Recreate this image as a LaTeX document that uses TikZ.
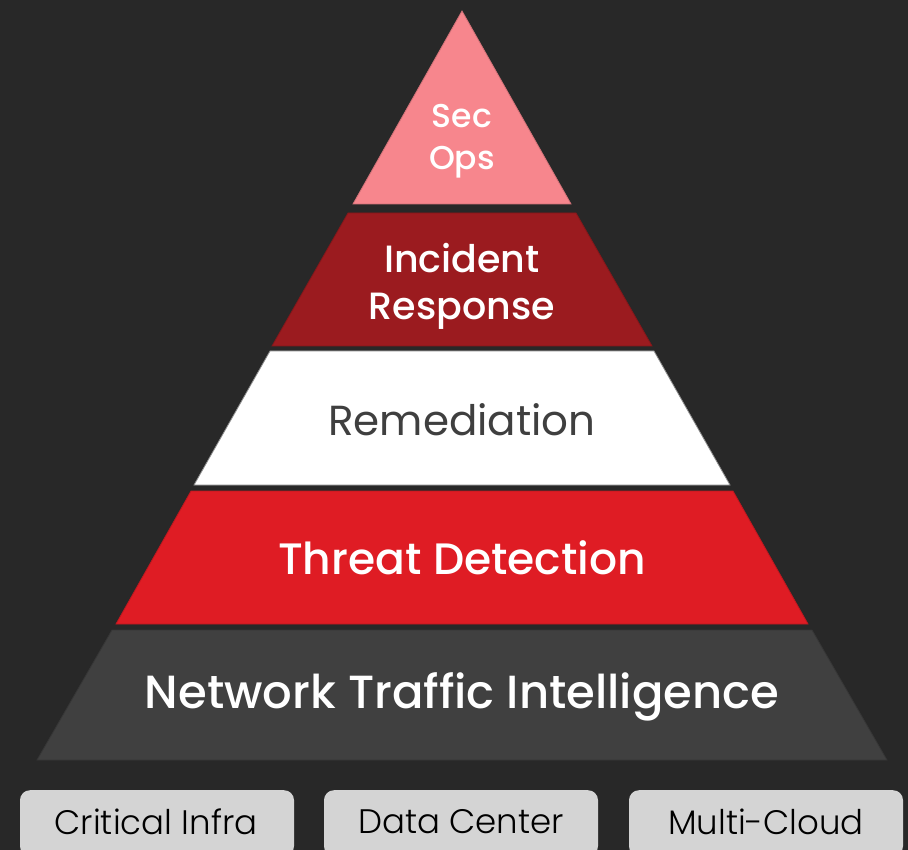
\documentclass[tikz,border=0pt]{standalone}
\usepackage{fontspec}
\setmainfont{Poppins}
\newfontfamily\pmed{Poppins Medium}
\newfontfamily\plight{Poppins Light}
\definecolor{bgc}{HTML}{282828}
\definecolor{pinkc}{HTML}{F7868D}
\definecolor{darkredc}{HTML}{9B1B1F}
\definecolor{whitec}{HTML}{FFFFFF}
\definecolor{redc}{HTML}{DF1C24}
\definecolor{grayc}{HTML}{404040}
\definecolor{boxc}{HTML}{D4D4D4}
\definecolor{remtext}{HTML}{3F3F3F}
\tikzset{
  tier/.style={line width=0.8pt, line join=miter},
  lbl/.style={align=center, inner sep=0pt, text=white},
  basebox/.style={fill=boxc, rounded corners=10pt, minimum width=274pt, minimum height=66pt, inner sep=0pt, anchor=north, text=black}
}
\begin{document}
\begin{tikzpicture}[x=1pt,y=-1pt]
\fill[bgc] (0,0) rectangle (908,850);
\useasboundingbox (0,0) rectangle (908,850);
\clip (0,0) rectangle (908,850);
% tiers
\filldraw[tier, fill=pinkc, draw=pinkc!85!black] (462,11) -- (571,204) -- (353,204) -- cycle;
\filldraw[tier, fill=darkredc, draw=darkredc!85!black] (348,213) -- (576,213) -- (652,346) -- (272,346) -- cycle;
\filldraw[tier, fill=whitec, draw=black!45] (270,351) -- (654,351) -- (730,485) -- (194,485) -- cycle;
\filldraw[tier, fill=redc, draw=redc!85!black] (191,491) -- (733,491) -- (808,624) -- (116,624) -- cycle;
\filldraw[tier, fill=grayc, draw=grayc!85!black] (112,630) -- (812,630) -- (887,760) -- (37,760) -- cycle;
% labels
\node[lbl, font=\pmed\fontsize{33}{42}\selectfont] (secops) at (462,141) {Sec\\Ops};
\node[lbl, font=\pmed\fontsize{38}{47}\selectfont] (incident) at (462,286) {Incident\\Response};
\node[lbl, font=\fontsize{42}{50}\selectfont, text=remtext] (remed) at (462,420) {Remediation};
\node[lbl, font=\pmed\fontsize{44}{54}\selectfont] (threat) at (462,558) {Threat Detection};
\node[lbl, font=\pmed\fontsize{46.5}{58}\selectfont] (network) at (462,697) {Network Traffic Intelligence};
% base boxes
\node[basebox] (infra) at (157,790) {};
\node[basebox] (dc) at (461,790) {};
\node[basebox] (cloud) at (766,790) {};
\node[font=\plight\fontsize{34}{40}\selectfont, inner sep=0pt] (infral) at (156,822) {Critical Infra};
\node[font=\plight\fontsize{34}{40}\selectfont, inner sep=0pt] (dcl) at (461,822) {Data Center};
\node[font=\plight\fontsize{34}{40}\selectfont, inner sep=0pt] (cloudl) at (766,822) {Multi-Cloud};
\end{tikzpicture}
\end{document}
